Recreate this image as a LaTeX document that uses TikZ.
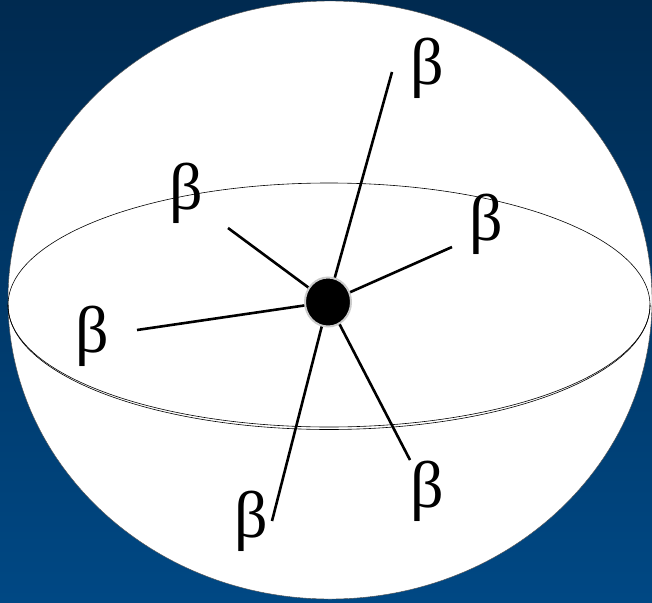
\documentclass[tikz,border=0pt]{standalone}
\usepackage{fontspec}
\setmainfont{Liberation Serif}
\usetikzlibrary{shapes.geometric}
\begin{document}
\begin{tikzpicture}[x=1pt,y=-1pt,
  lbl/.style={font=\fontsize{66}{66}\selectfont, inner sep=0pt},
  ray/.style={line width=2.6pt, black}]
\useasboundingbox (0,0) rectangle (652,602);
\definecolor{bgtop}{RGB}{0,42,80}
\definecolor{bgbot}{RGB}{0,72,132}
\shade[top color=bgtop, bottom color=bgbot] (0,0) rectangle (652,602);
% sphere
\fill[white] (330,300) ellipse [x radius=322pt, y radius=299pt];
\draw[black!70, line width=0.4pt] (330,300) ellipse [x radius=322pt, y radius=299pt];
% equator
\draw[line width=0.6pt] (329,305) ellipse [x radius=321pt, y radius=122pt];
\draw[line width=0.6pt] (8,305) arc [start angle=180, end angle=360, x radius=321pt, y radius=124.5pt];
% rays ends
\coordinate (e1) at (392,72);
\coordinate (e2) at (228,228);
\coordinate (e3) at (452,247);
\coordinate (e4) at (137,330);
\coordinate (e5) at (410,460);
\coordinate (e6) at (272,521);
\coordinate (c) at (328,302);
\foreach \e in {e1,e2,e3,e4,e5,e6} \draw[ray] (c) -- (\e);
\node[ellipse, fill=black, draw=black!20, line width=2pt, minimum width=46pt, minimum height=49pt, inner sep=0pt] (dot) at (c) {};
% labels
\node[lbl] (b1) at (427,68) {β};
\node[lbl] (b2) at (186,193) {β};
\node[lbl] (b3) at (486,224) {β};
\node[lbl] (b4) at (92,336) {β};
\node[lbl] (b5) at (427,491) {β};
\node[lbl] (b6) at (251,521) {β};
\end{tikzpicture}
\end{document}
